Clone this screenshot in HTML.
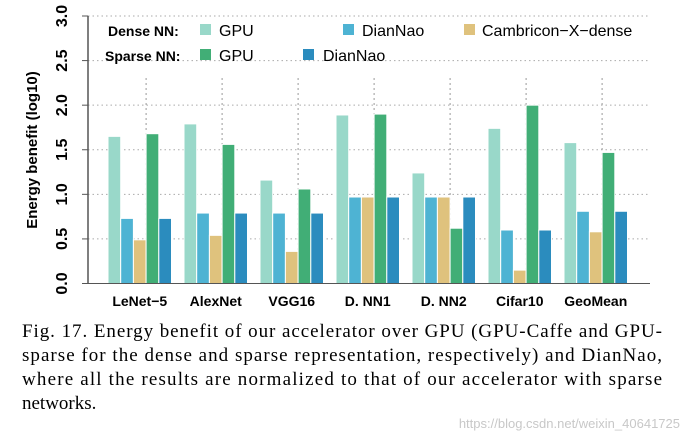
<!DOCTYPE html>
<html><head><meta charset="utf-8"><style>
body{margin:0;background:#fff;width:688px;height:438px;overflow:hidden}
svg text{font-family:"Liberation Sans",sans-serif}
svg text.cap{font-family:"Liberation Serif",serif;font-size:19px}
</style></head><body>
<svg id="chart" width="688" height="438" xmlns="http://www.w3.org/2000/svg">
<g id="grid"></g>
<g id="bars"></g>
<g id="axes"></g>
<text transform="translate(37,150) rotate(-90)" text-anchor="middle" font-size="15" font-weight="bold">Energy benefit (log10)</text>
<g font-size="16">
<text x="108" y="36" font-size="14" font-weight="bold">Dense NN:</text>
<rect x="200" y="24" width="11" height="11" fill="#99d8c9"/><text x="219" y="36">GPU</text>
<rect x="343" y="24" width="11" height="11" fill="#4eb3d3"/><text x="362" y="36">DianNao</text>
<rect x="464" y="24" width="11" height="11" fill="#dfc27d"/><text x="482" y="36">Cambricon−X−dense</text>
<text x="105" y="61" font-size="14" font-weight="bold">Sparse NN:</text>
<rect x="200" y="49" width="11" height="11" fill="#41ae76"/><text x="219" y="61">GPU</text>
<rect x="303" y="49" width="11" height="11" fill="#2b8cbe"/><text x="323" y="61">DianNao</text>
</g>
<g>
<text class="cap" x="22" y="337" textLength="640" lengthAdjust="spacing">Fig. 17.  Energy benefit of our accelerator over GPU (GPU-Caffe and GPU-</text>
<text class="cap" x="22" y="361" textLength="640" lengthAdjust="spacing">sparse for the dense and sparse representation, respectively) and DianNao,</text>
<text class="cap" x="22" y="385" textLength="640" lengthAdjust="spacing">where all the results are normalized to that of our accelerator with sparse</text>
<text class="cap" x="22" y="409">networks.</text>
</g>
<text x="680" y="428" text-anchor="end" font-size="13" fill="#c8c8c8">https://blog.csdn.net/weixin_40641725</text>
</svg>
<script>
const categories=["LeNet−5","AlexNet","VGG16","D. NN1","D. NN2","Cifar10","GeoMean"];
const denseGPU=[1.65,1.79,1.16,1.89,1.24,1.74,1.58];
const denseDianNao=[0.73,0.79,0.79,0.97,0.97,0.60,0.81];
const cambricon=[0.49,0.54,0.36,0.97,0.97,0.15,0.58];
const sparseGPU=[1.68,1.56,1.06,1.90,0.62,2.00,1.47];
const sparseDianNao=[0.73,0.79,0.79,0.97,0.97,0.60,0.81];
const yTicks=["0.0","0.5","1.0","1.5","2.0","2.5","3.0"];
const seriesNames=["dense-gpu","dense-diannao","cambricon","sparse-gpu","sparse-diannao"];
const series=[denseGPU,denseDianNao,cambricon,sparseGPU,sparseDianNao];
const colors=["#99d8c9","#4eb3d3","#dfc27d","#41ae76","#2b8cbe"];
const NS="http://www.w3.org/2000/svg";
const X0=88,X1=650,Y0=283.5,YT=16,YMAX=3;
const y=v=>Y0-(v/YMAX)*(Y0-YT);
const groupX=i=>108+76*i;
const bw=12.7;
function mk(t,a,p){const e=document.createElementNS(NS,t);for(const k in a)e.setAttribute(k,a[k]);p.appendChild(e);return e;}
const grid=document.getElementById('grid'),bars=document.getElementById('bars'),axes=document.getElementById('axes');
yTicks.forEach((t,i)=>{const v=parseFloat(t);
 const l=mk('line',{x1:X0,x2:X1,y1:y(v),y2:y(v),stroke:'#aaa','stroke-dasharray':'1.5,3'},grid);
 
 
 const tk=mk('line',{x1:X0-6,x2:X0,y1:y(v),y2:y(v),stroke:'#555'},axes);
 
 
 const tx=mk('text',{transform:`translate(${X0-21},${y(v)}) rotate(-90)`,'text-anchor':'middle','font-size':16,'font-weight':'bold'},axes);
 tx.textContent=t;
 
 
});
categories.forEach((c,i)=>{const gx=groupX(i);
 const sep=mk('line',{x1:gx+3*bw,x2:gx+3*bw,y1:78,y2:Y0,stroke:'#999','stroke-dasharray':'2,3'},grid);
 
 
 series.forEach((s,j)=>{
  const r=mk('rect',{x:gx+j*bw,y:y(s[i]),width:bw,height:Y0-y(s[i]),fill:colors[j],stroke:'#fff','stroke-width':1},bars);
  
  
 });
 const tx=mk('text',{x:gx+2.5*bw,y:306,'text-anchor':'middle','font-size':14,'font-weight':'bold'},axes);
 tx.textContent=c;
 
 
});
const ax=mk('line',{x1:X0,x2:X0,y1:YT,y2:Y0,stroke:'#555','stroke-width':1.5},axes);


const bx=mk('line',{x1:X0,x2:X1,y1:Y0,y2:Y0,stroke:'#555','stroke-width':1},axes);


</script>
</body></html>
